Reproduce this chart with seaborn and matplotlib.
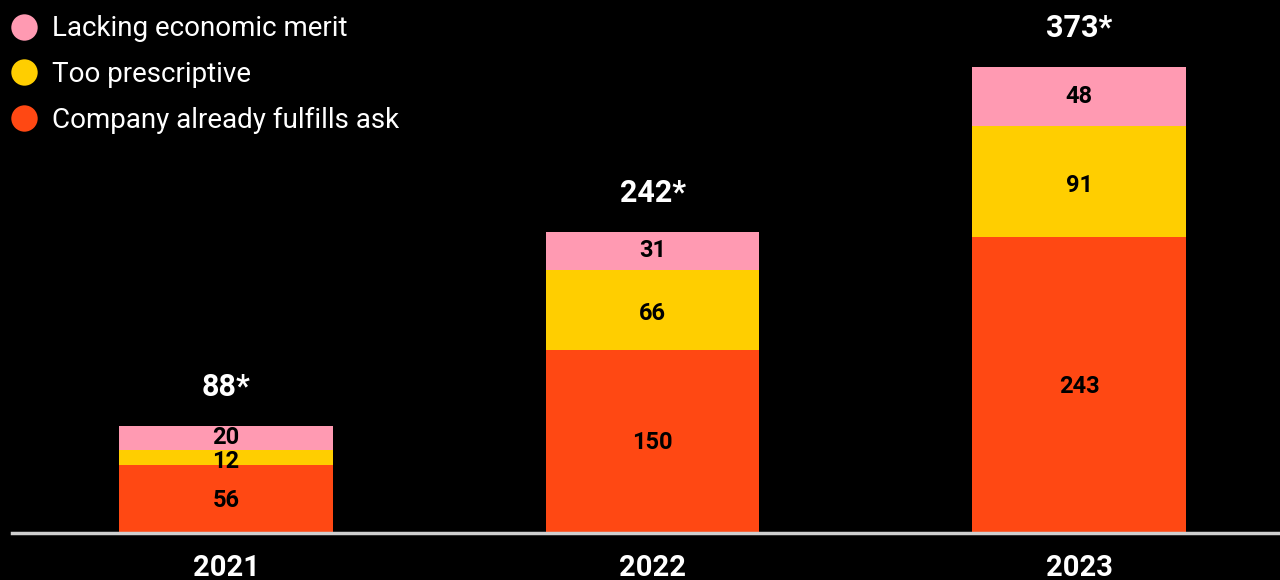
import numpy as np
import pandas as pd
import matplotlib
matplotlib.use("Agg")
import matplotlib.pyplot as plt
from matplotlib.lines import Line2D
import seaborn as sns

# data
years = ["2021", "2022", "2023"]
already_fulfills = [56, 150, 243]
too_prescriptive = [12, 66, 91]
lacking_merit = [20, 31, 48]
totals = ["88*", "242*", "373*"]

series_names = ["Lacking economic merit", "Too prescriptive", "Company already fulfills ask"]
colors = {"Lacking economic merit": "#ff9ab2",
          "Too prescriptive": "#ffce00",
          "Company already fulfills ask": "#ff4813"}

sns.set_theme(style="white")
plt.rcParams["font.family"] = ["Roboto", "DejaVu Sans"]

fig = plt.figure(figsize=(12.8, 5.8), dpi=100, facecolor="black")
ax = fig.add_axes([12 / 1280, 47 / 580, 1 - 12 / 1280, 533 / 580])
ax.set_facecolor("black")

# stacked bars: draw cumulative heights top-down so each layer covers the one above
red = np.array(already_fulfills)
yel = red + np.array(too_prescriptive)
pink = yel + np.array(lacking_merit)
layers = [("Lacking economic merit", pink), ("Too prescriptive", yel),
          ("Company already fulfills ask", red)]
for name, vals in layers:
    df = pd.DataFrame({"year": years, "value": vals})
    sns.barplot(data=df, x="year", y="value", color=colors[name], width=0.5,
                saturation=1, linewidth=0, ax=ax)

# segment labels (thin segments get nudged apart a little, like the original)
segs = [(np.zeros(3), red, already_fulfills, -1),
        (red, yel, too_prescriptive, -3),
        (yel, pink, lacking_merit, 0)]
for lo, hi, vals, dy in segs:
    for i in range(len(years)):
        ax.annotate(str(vals[i]), (i, (lo[i] + hi[i]) / 2), xytext=(0, dy),
                    textcoords="offset points", ha="center", va="center",
                    fontsize=17, fontweight="bold", color="black")

# totals above bars
for i, t in enumerate(totals):
    ax.annotate(t, (i, pink[i]), xytext=(0, 17), textcoords="offset points",
                ha="center", va="bottom", fontsize=22, fontweight="bold", color="white")

ax.set_xlim(-0.502, 2.471)
ax.set_ylim(0, 437)
ax.set_xlabel("")
ax.set_ylabel("")
ax.set_yticks([])
ax.tick_params(axis="x", length=0, pad=15, labelsize=21, labelcolor="white")
for lab in ax.get_xticklabels():
    lab.set_fontweight("bold")
for s in ["top", "left", "right"]:
    ax.spines[s].set_visible(False)
ax.spines["bottom"].set_color("#cfcfcf")
ax.spines["bottom"].set_linewidth(2.5)

handles = [Line2D([], [], marker="o", linestyle="", markersize=19,
                  markerfacecolor=colors[n], markeredgewidth=0) for n in series_names]
leg = fig.legend(handles, series_names, loc="upper left",
                 bbox_to_anchor=(-5 / 1280, 1.0),
                 frameon=False, fontsize=20, labelcolor="white", handlelength=1.0,
                 handletextpad=0.5, labelspacing=0.67, borderaxespad=0.3,
                 borderpad=0.25)

fig.savefig("out.png", facecolor="black")
